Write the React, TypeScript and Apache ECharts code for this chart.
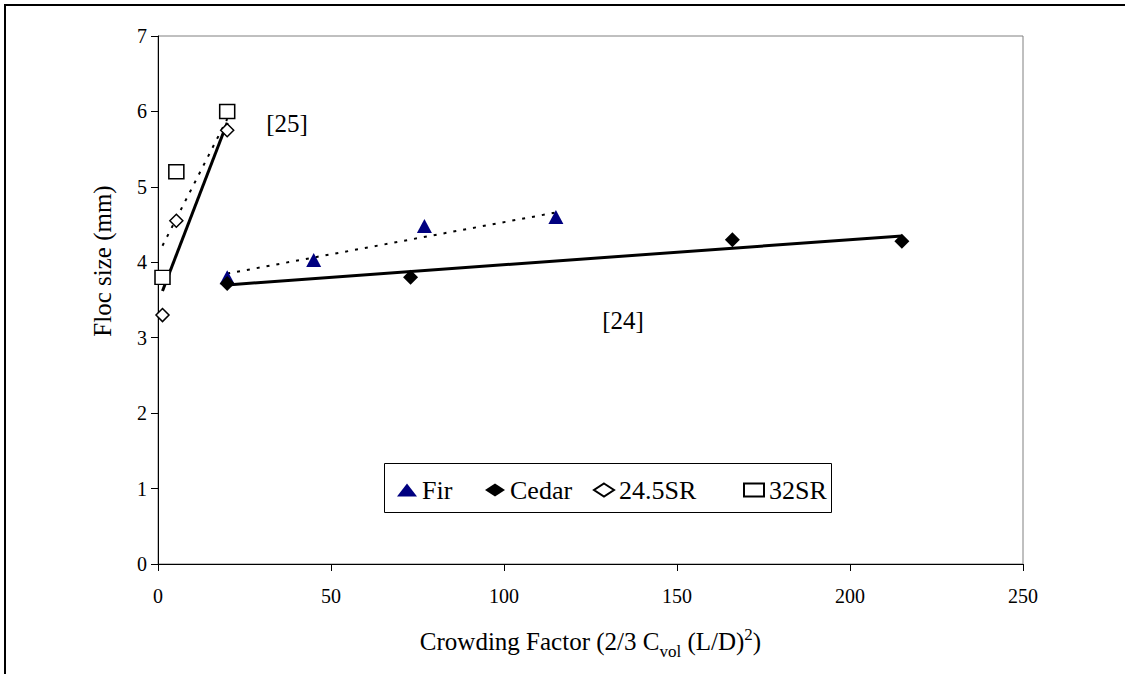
import React, { useEffect, useRef } from "react";
import * as echarts from "echarts";

const FONT = "'Liberation Serif', 'Times New Roman', serif";

// Scatter data
const firX = [20, 45, 77, 115];
const firY = [3.8, 4.03, 4.48, 4.6];
const cedarX = [20, 73, 166, 215];
const cedarY = [3.72, 3.8, 4.3, 4.28];
const sr245X = [1.3, 5.3, 20];
const sr245Y = [3.3, 4.55, 5.75];
const sr32X = [1.3, 5.3, 20];
const sr32Y = [3.8, 5.2, 6.0];

// Trendline endpoints
const firTrendX = [20, 115];
const firTrendY = [3.85, 4.66];
const cedarTrendX = [20, 215];
const cedarTrendY = [3.7, 4.35];
const sr245TrendX = [1.3, 20];
const sr245TrendY = [4.22, 5.9];
const sr32TrendX = [1.3, 20];
const sr32TrendY = [3.62, 5.85];

const xTicks = [0, 50, 100, 150, 200, 250];
const yTicks = [0, 1, 2, 3, 4, 5, 6, 7];

const seriesNames = ["Fir", "Cedar", "24.5SR", "32SR"];
const legendLefts = [397, 485, 593, 743];

const zip = (xs: number[], ys: number[]) => xs.map((x, i) => [x, ys[i]]);

export default function App() {
  const ref = useRef<HTMLDivElement>(null);
  useEffect(() => {
    if (!ref.current) return;
    const chart = echarts.init(ref.current, null, { renderer: "svg" });
    const legendStyle = (name: string, left: number) => ({
      data: [name],
      left,
      top: 477,
      padding: 0,
      itemWidth: 20,
      itemHeight: 13,
      textStyle: { fontFamily: FONT, fontSize: 26, color: "#000", padding: [2, 0, 0, 0] },
      selectedMode: false,
    });
    chart.setOption({
      animation: false,
      backgroundColor: "#fff",
      grid: {
        left: 158,
        right: 102,
        top: 36,
        bottom: 110,
        show: true,
        borderColor: "#808080",
        borderWidth: 1,
      },
      legend: seriesNames.map((n, i) => legendStyle(n, legendLefts[i])),
      xAxis: {
        type: "value",
        min: xTicks[0],
        max: xTicks[xTicks.length - 1],
        interval: 50,
        splitLine: { show: false },
        axisLine: { show: true, onZero: false, lineStyle: { color: "#000", width: 1 } },
        axisTick: { show: true, inside: false, length: 7, lineStyle: { color: "#000" } },
        axisLabel: { fontFamily: FONT, fontSize: 20, color: "#000", margin: 22 },
        name: "Crowding Factor (2/3 C{sub|vol} (L/D){sup|2})",
        nameLocation: "middle",
        nameGap: 62,
        nameTextStyle: {
          fontFamily: FONT,
          fontSize: 25,
          color: "#000",
          lineHeight: 30,
          rich: {
            sub: { fontFamily: FONT, fontSize: 17, color: "#000", verticalAlign: "bottom", lineHeight: 14, padding: [0, 0, -4, 0] },
            sup: { fontFamily: FONT, fontSize: 17, color: "#000", verticalAlign: "top", lineHeight: 16 },
          },
        },
      },
      yAxis: {
        type: "value",
        min: yTicks[0],
        max: yTicks[yTicks.length - 1],
        interval: 1,
        splitLine: { show: false },
        axisLine: { show: true, onZero: false, lineStyle: { color: "#000", width: 1 } },
        axisTick: { show: true, inside: false, length: 7, lineStyle: { color: "#000" } },
        axisLabel: { fontFamily: FONT, fontSize: 20, color: "#000", margin: 11 },
      },
      graphic: [
        {
          type: "line",
          shape: { x1: 5, y1: 5, x2: 5, y2: 674 },
          style: { stroke: "#000", lineWidth: 2 },
          silent: true,
        },
        {
          type: "line",
          shape: { x1: 4, y1: 5, x2: 1125, y2: 5 },
          style: { stroke: "#000", lineWidth: 2 },
          silent: true,
        },
        {
          type: "rect",
          shape: { x: 384.5, y: 463.5, width: 447, height: 49 },
          style: { fill: "none", stroke: "#000", lineWidth: 1 },
          silent: true,
          z: -1,
        },
        {
          type: "text",
          x: 102,
          y: 261,
          rotation: Math.PI / 2,
          style: {
            text: "Floc size (mm)",
            font: `25px ${FONT}`,
            fill: "#000",
            textAlign: "center",
            textVerticalAlign: "middle",
          },
        },
        {
          type: "text",
          x: 287,
          y: 123,
          style: {
            text: "[25]",
            font: `25px ${FONT}`,
            fill: "#000",
            textAlign: "center",
            textVerticalAlign: "middle",
          },
        },
        {
          type: "text",
          x: 623,
          y: 320,
          style: {
            text: "[24]",
            font: `25px ${FONT}`,
            fill: "#000",
            textAlign: "center",
            textVerticalAlign: "middle",
          },
        },
      ],
      series: [
        {
          name: "firTrend",
          type: "line",
          data: zip(firTrendX, firTrendY),
          symbol: "none",
          lineStyle: { color: "#000", width: 2, type: [3, 7] },
          z: 2,
        },
        {
          name: "cedarTrend",
          type: "line",
          data: zip(cedarTrendX, cedarTrendY),
          symbol: "none",
          lineStyle: { color: "#000", width: 3, type: "solid" },
          z: 2,
        },
        {
          name: "sr245Trend",
          type: "line",
          data: zip(sr245TrendX, sr245TrendY),
          symbol: "none",
          lineStyle: { color: "#000", width: 2, type: [3, 7] },
          z: 2,
        },
        {
          name: "sr32Trend",
          type: "line",
          data: zip(sr32TrendX, sr32TrendY),
          symbol: "none",
          lineStyle: { color: "#000", width: 3, type: "solid" },
          z: 2,
        },
        {
          name: "Fir",
          type: "scatter",
          data: zip(firX, firY),
          symbol: "triangle",
          symbolSize: [15, 14],
          itemStyle: { color: "#000080", opacity: 1 },
          z: 3,
        },
        {
          name: "Cedar",
          type: "scatter",
          data: zip(cedarX, cedarY),
          symbol: "diamond",
          symbolSize: 15,
          itemStyle: { color: "#000", opacity: 1 },
          z: 3,
        },
        {
          name: "24.5SR",
          type: "scatter",
          data: zip(sr245X, sr245Y),
          symbol: "diamond",
          symbolSize: 13,
          itemStyle: { color: "#fff", borderColor: "#000", borderWidth: 1.5, opacity: 1 },
          z: 3,
        },
        {
          name: "32SR",
          type: "scatter",
          data: zip(sr32X, sr32Y),
          symbol: "rect",
          symbolSize: [15, 14],
          itemStyle: { color: "#fff", borderColor: "#000", borderWidth: 1.5, opacity: 1 },
          z: 3,
        },
      ],
    });
    return () => chart.dispose();
  }, []);
  return (
    <div
      ref={ref}
      style={{ position: "fixed", left: 0, top: 0, width: 1125, height: 674, background: "#fff" }}
    />
  );
}
